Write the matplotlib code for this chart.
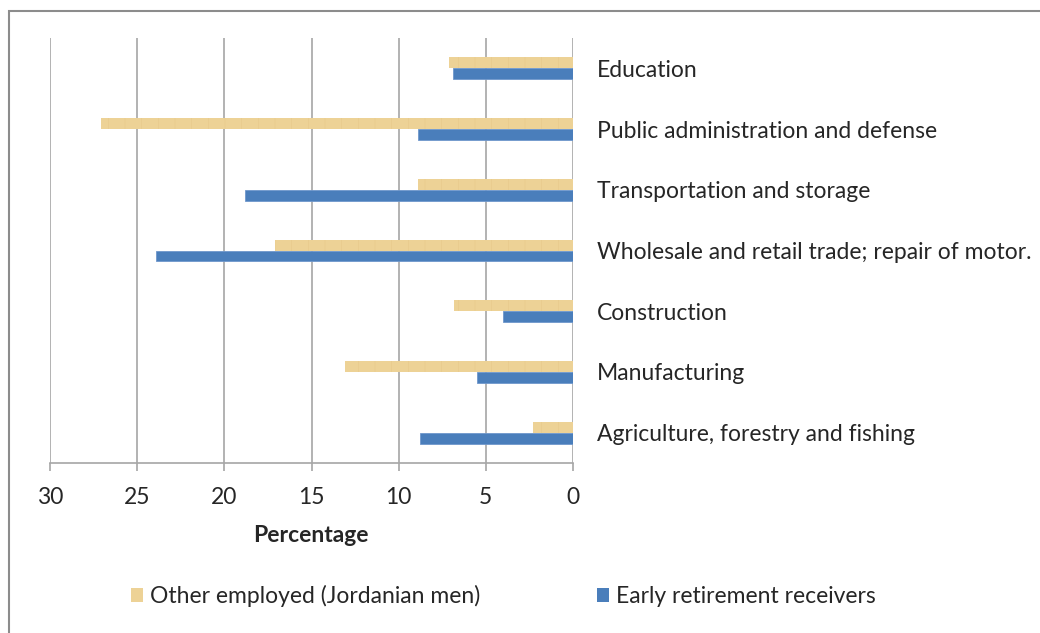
import matplotlib.pyplot as plt
import numpy as np
from matplotlib.patches import Rectangle, Patch

plt.rcParams['font.family'] = ['Lato', 'DejaVu Sans']
plt.rcParams['hatch.linewidth'] = 0.4

# sectors, bottom to top
categories = [
    "Agriculture, forestry and fishing",
    "Manufacturing",
    "Construction",
    "Wholesale and retail trade; repair of motor.",
    "Transportation and storage",
    "Public administration and defense",
    "Education",
]
other_employed = [2.3, 13.1, 6.8, 17.1, 8.9, 27.1, 7.1]
early_retired = [8.8, 5.5, 4.0, 23.9, 18.8, 8.9, 6.9]
xticks = [0, 5, 10, 15, 20, 25, 30]

tan = '#EDD296'
tan_dark = '#E6C98A'
blue = '#4A7EBB'
grey = '#A6A6A6'
txt = '#262626'
fs = 16.5

fig = plt.figure(figsize=(10.4, 6.33), dpi=100)
ax = fig.add_axes([50 / 1040, 1 - 463 / 633, 523 / 1040, 425 / 633])

y = np.arange(len(categories))
h = 0.18
ax.barh(y + h / 2, other_employed, height=h, color=tan, edgecolor=tan_dark,
        linewidth=0, hatch='|', zorder=3)
ax.barh(y - h / 2, early_retired, height=h, color=blue, edgecolor='#6F97CC',
        linewidth=0.6, zorder=3)

ax.set_xlim(30, 0)
ax.set_ylim(-0.5, len(categories) - 0.5)
ax.set_xticks(xticks)
ax.grid(axis='x', color=grey, linewidth=1.2, zorder=0)
ax.set_axisbelow(True)

for s in ['left', 'top', 'right']:
    ax.spines[s].set_visible(False)
ax.spines['bottom'].set_color(grey)
ax.spines['bottom'].set_linewidth(1.2)

ax.tick_params(axis='x', direction='out', length=6, width=1.2, color=grey,
               labelsize=fs, labelcolor=txt, pad=11)

ax.set_yticks(y)
ax.set_yticklabels(categories)
ax.yaxis.tick_right()
ax.tick_params(axis='y', length=0, labelsize=fs, labelcolor=txt, pad=17)

fig.text(311 / 1040, 1 - 535 / 633, 'Percentage', ha='center', va='center',
         fontsize=fs, fontweight='bold', color=txt)

handles = [Patch(facecolor=tan, edgecolor='none'),
           Patch(facecolor=blue, edgecolor='none')]
fig.legend(handles, ['Other employed (Jordanian men)', 'Early retirement receivers'],
           loc='center left', bbox_to_anchor=(131 / 1040, 1 - 596 / 633),
           ncol=2, frameon=False, fontsize=fs, borderpad=0, borderaxespad=0,
           handlelength=0.52, handleheight=0.52, handletextpad=0.3,
           columnspacing=5.1, labelcolor=txt)

# outer chart frame
fig.patches.append(Rectangle((9 / 1040, -0.1), 2.0, 1 - 11 / 633 + 0.1,
                             transform=fig.transFigure, fill=False,
                             edgecolor='#8C8C8C', linewidth=1.5))

fig.savefig('out.png', dpi=100)
